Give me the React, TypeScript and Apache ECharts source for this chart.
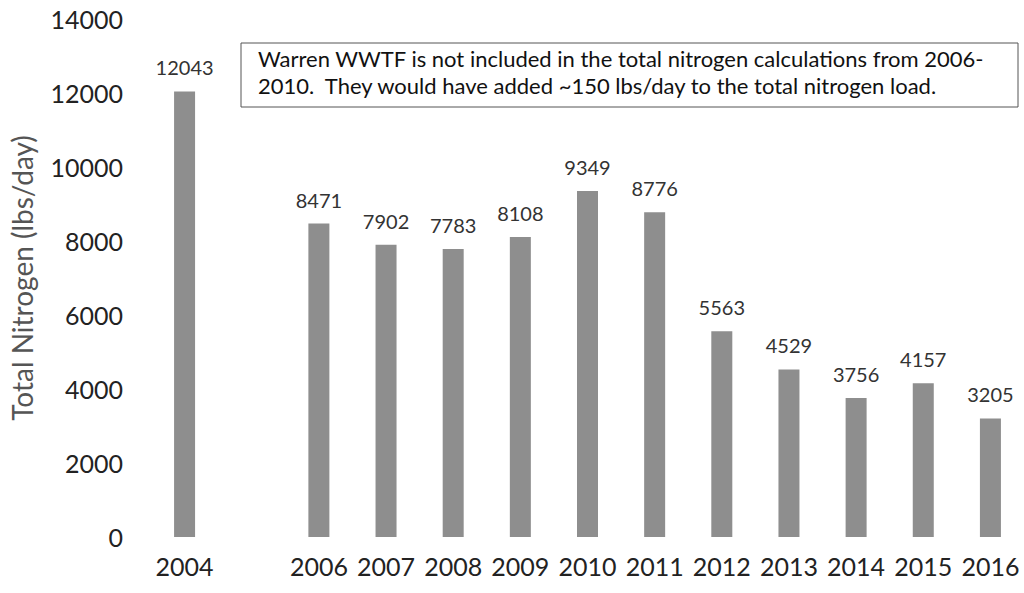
import React, { useEffect, useRef } from "react";
import * as echarts from "echarts";

const categories = ["2004", "", "2006", "2007", "2008", "2009", "2010", "2011", "2012", "2013", "2014", "2015", "2016"];
const nitrogen = [12043, null, 8471, 7902, 7783, 8108, 9349, 8776, 5563, 4529, 3756, 4157, 3205];
const yTicks = { min: 0, max: 14000, interval: 2000 };
const yTitle = "Total Nitrogen (lbs/day)";
const noteLines = [
  "Warren WWTF is not included in the total nitrogen calculations from 2006-",
  "2010.  They would have added ~150 lbs/day to the total nitrogen load.",
];

export default function App() {
  const ref = useRef<HTMLDivElement>(null);
  useEffect(() => {
    if (!ref.current) return;
    const chart = echarts.init(ref.current, null, { renderer: "svg" });
    const font = "Lato, 'Open Sans', sans-serif";
    chart.setOption({
      animation: false,
      backgroundColor: "#ffffff",
      textStyle: { fontFamily: font },
      grid: { left: 148, right: 0, top: 19, bottom: 56, containLabel: false },
      xAxis: {
        type: "category",
        data: categories,
        axisLine: { show: false },
        axisTick: { show: false },
        axisLabel: { color: "#222", fontSize: 25, fontFamily: font, margin: 16, interval: 0 },
      },
      yAxis: {
        type: "value",
        min: yTicks.min,
        max: yTicks.max,
        interval: yTicks.interval,
        name: yTitle,
        nameLocation: "middle",
        nameGap: 115,
        nameRotate: 90,
        nameTextStyle: { color: "#555", fontSize: 28, fontFamily: font },
        axisLine: { show: false },
        axisTick: { show: false },
        splitLine: { show: false },
        axisLabel: {
          color: "#222",
          fontSize: 25,
          fontFamily: font,
          margin: 28,
          formatter: (v: number) => String(v),
        },
      },
      series: [
        {
          type: "bar",
          data: nitrogen,
          barWidth: 21,
          itemStyle: { color: "#8e8e8e" },
          label: {
            show: true,
            position: "top",
            distance: 14,
            color: "#333",
            fontSize: 20,
            fontFamily: font,
          },
        },
      ],
      graphic: [
        {
          type: "rect",
          shape: { x: 241, y: 43, width: 777, height: 64 },
          style: { fill: "#fff", stroke: "#555", lineWidth: 1 },
        },
        ...noteLines.map((line, i) => ({
          type: "text",
          x: 258,
          y: 47 + i * 27,
          style: {
            text: line,
            fontSize: 22,
            fill: "#111",
            fontFamily: font,
          },
        })),
      ],
    });
    return () => chart.dispose();
  }, []);
  return (
    <div
      ref={ref}
      style={{ position: "absolute", left: 0, top: 0, width: 1024, height: 593 }}
    />
  );
}
